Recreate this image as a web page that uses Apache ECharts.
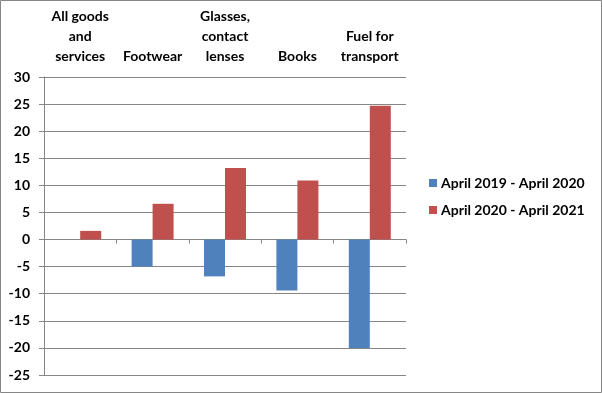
<!DOCTYPE html>
<html><head><meta charset="utf-8">
<script src="https://cdn.jsdelivr.net/npm/echarts@6/dist/echarts.min.js"></script>
<style>html,body{margin:0;padding:0;background:#fff}#c{width:602px;height:393px}</style>
</head><body><div id="c"></div>
<script>
var categories = ["All goods\nand\nservices", "Footwear", "Glasses,\ncontact\nlenses", "Books", "Fuel for\ntransport"];
var seriesNames = ["April 2019 - April 2020", "April 2020 - April 2021"];
var values2019to2020 = [0, -5.0, -6.8, -9.4, -20.0];
var values2020to2021 = [1.6, 6.6, 13.2, 10.9, 24.7];
var yMin = -25, yMax = 30, yStep = 5;

var chart = echarts.init(document.getElementById('c'), null, {renderer: 'canvas'});
var font = 'Lato';
var gridColor = '#868686';
chart.setOption({
  animation: false,
  backgroundColor: '#fff',
  textStyle: {fontFamily: font},
  graphic: [{type: 'rect', shape: {x: 0.5, y: 0.5, width: 601, height: 392}, style: {fill: 'none', stroke: gridColor, lineWidth: 1}, silent: true}],
  grid: {left: 44, right: 196, top: 77, bottom: 18, containLabel: false, outerBoundsMode: 'none'},
  legend: {
    orient: 'vertical', left: 424, top: 171, itemWidth: 8, itemHeight: 8, itemGap: 13,
    icon: 'rect',
    textStyle: {fontFamily: font, fontWeight: 'bold', fontSize: 14, color: '#000', padding: [0, 0, 0, -1]},
    data: seriesNames
  },
  xAxis: [{
    type: 'category', data: categories, position: 'bottom',
    axisLine: {onZero: true, lineStyle: {color: gridColor}},
    axisTick: {show: true, length: 4, lineStyle: {color: gridColor}},
    axisLabel: {show: false}
  }, {
    type: 'category', data: categories, position: 'top',
    axisLine: {show: false}, axisTick: {show: false},
    axisLabel: {show: true, interval: 0, margin: 11, fontFamily: font, fontWeight: 'bold', fontSize: 14, color: '#000', lineHeight: 20, verticalAlign: 'bottom'}
  }],
  yAxis: {
    type: 'value', min: yMin, max: yMax, interval: yStep,
    axisLine: {show: true, lineStyle: {color: gridColor}},
    axisTick: {show: true, length: 5, inside: false, lineStyle: {color: gridColor}},
    splitLine: {lineStyle: {color: gridColor}},
    axisLabel: {margin: 14, fontFamily: font, fontWeight: 'bold', fontSize: 14, color: '#000'}
  },
  series: [{
    name: seriesNames[0], type: 'bar', data: values2019to2020, barWidth: 21, barGap: '0%',
    itemStyle: {color: '#4F81BD'}
  }, {
    name: seriesNames[1], type: 'bar', data: values2020to2021, barWidth: 21, barGap: '0%',
    itemStyle: {color: '#C0504D'}
  }]
});
</script></body></html>
